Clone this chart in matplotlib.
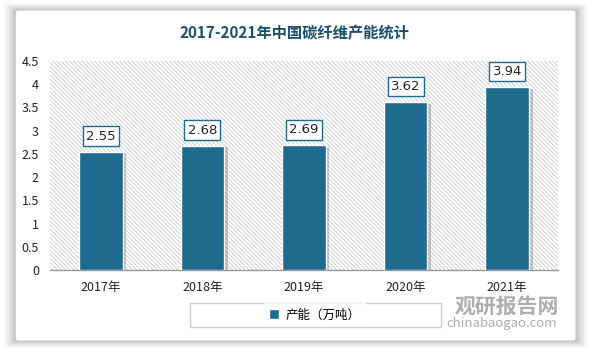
import matplotlib.pyplot as plt
from matplotlib.patches import FancyBboxPatch, Rectangle
import numpy as np

plt.rcParams['font.family'] = ['Noto Sans CJK SC', 'DejaVu Sans']
plt.rcParams['hatch.color'] = '#d0d0d0'
plt.rcParams['hatch.linewidth'] = 0.7

years = ['2017年', '2018年', '2019年', '2020年', '2021年']
capacity = [2.55, 2.68, 2.69, 3.62, 3.94]
yticks = [0, 0.5, 1, 1.5, 2, 2.5, 3, 3.5, 4, 4.5]

bar_color = '#1e6b8f'
title_color = '#1b4f6e'

fig = plt.figure(figsize=(5.89, 3.51), dpi=100)
fig.patch.set_facecolor('white')

# card background with soft shadow
for i, a in enumerate([0.04, 0.05, 0.06, 0.08]):
    off = (4 - i) * 0.005
    fig.patches.append(FancyBboxPatch((0.027 - off, 0.03 - off), 0.95 + 2 * off, 0.94 + 2 * off,
                                      boxstyle='round,pad=0,rounding_size=0.005',
                                      transform=fig.transFigure, facecolor='black',
                                      alpha=a, edgecolor='none', zorder=0))
fig.patches.append(FancyBboxPatch((0.027, 0.03), 0.95, 0.94,
                                  boxstyle='round,pad=0,rounding_size=0.005',
                                  transform=fig.transFigure, facecolor='white',
                                  edgecolor='none', zorder=1))

ax = fig.add_axes([50 / 589, 1 - 270 / 351, 508 / 589, 209 / 351])
ax.set_zorder(2)
ax.patch.set_alpha(0)
ax.add_patch(Rectangle((0, 0), 1, 1, transform=ax.transAxes, facecolor='white',
                       hatch='\\' * 8, edgecolor='#d0d0d0', linewidth=0, zorder=0))

x = np.arange(len(years))
# bar shadows
ax.bar(x + 0.035, np.array(capacity) - 0.04, width=0.43, color='#000000', alpha=0.2, zorder=2)
ax.bar(x, capacity, width=0.43, color=bar_color, edgecolor='white', linewidth=1.0,
       zorder=3, label='产能（万吨）')

for xi, v in zip(x, capacity):
    ax.text(xi, v + 0.33, f'{v:.2f}', ha='center', va='center', fontsize=9.5,
            family=['DejaVu Sans'], color='#222222', zorder=5,
            bbox=dict(boxstyle='square,pad=0.25', facecolor='white', edgecolor=bar_color,
                      linewidth=1.0))

ax.set_xlim(-0.5, 4.5)
ax.set_ylim(0, 4.5)
ax.set_yticks(yticks)
ax.set_yticklabels([f'{t:g}' for t in yticks], fontsize=9, color='#222222')
ax.set_xticks(x)
ax.set_xticklabels(years, fontsize=9, color='#222222')
ax.tick_params(axis='both', length=0)
ax.tick_params(axis='x', pad=8)
ax.tick_params(axis='y', pad=8)
for s in ['top', 'right', 'left']:
    ax.spines[s].set_visible(False)
ax.spines['bottom'].set_color('#999999')
ax.spines['bottom'].set_linewidth(1.0)

fig.text(294 / 589, 1 - 33 / 351, '2017-2021年中国碳纤维产能统计', ha='center', va='center',
         fontsize=11, fontweight='bold', color=title_color)

leg = fig.legend(loc='center', bbox_to_anchor=(315 / 589, 1 - 315 / 351), ncol=1,
                 fontsize=9, frameon=True, fancybox=False, edgecolor='#cccccc',
                 handlelength=0.8, handleheight=0.8, borderpad=0.45,
                 handletextpad=0.5)
leg.set_zorder(4)
# widen the legend box to match the reference
leg_frame_w = 251 / 589
fig.canvas.draw()
bb = leg.get_window_extent().transformed(fig.transFigure.inverted())
frame = Rectangle((315 / 589 - leg_frame_w / 2, bb.y0), leg_frame_w, bb.height,
                  transform=fig.transFigure, facecolor='white', edgecolor='#cccccc',
                  linewidth=1.0, zorder=3)
fig.patches.append(frame)
leg.get_frame().set_edgecolor('none')

# watermark
fig.text(507 / 589, 1 - 306 / 351, '观研报告网', ha='center', va='center', fontsize=15,
         fontweight='bold', color='#8a8a8a', alpha=0.7, zorder=6)
fig.text(502 / 589, 1 - 324 / 351, 'chinabaogao.com', ha='center', va='center',
         fontsize=9.5, color='#8a8a8a', alpha=0.7, zorder=6)

fig.savefig('out.png', dpi=100)
